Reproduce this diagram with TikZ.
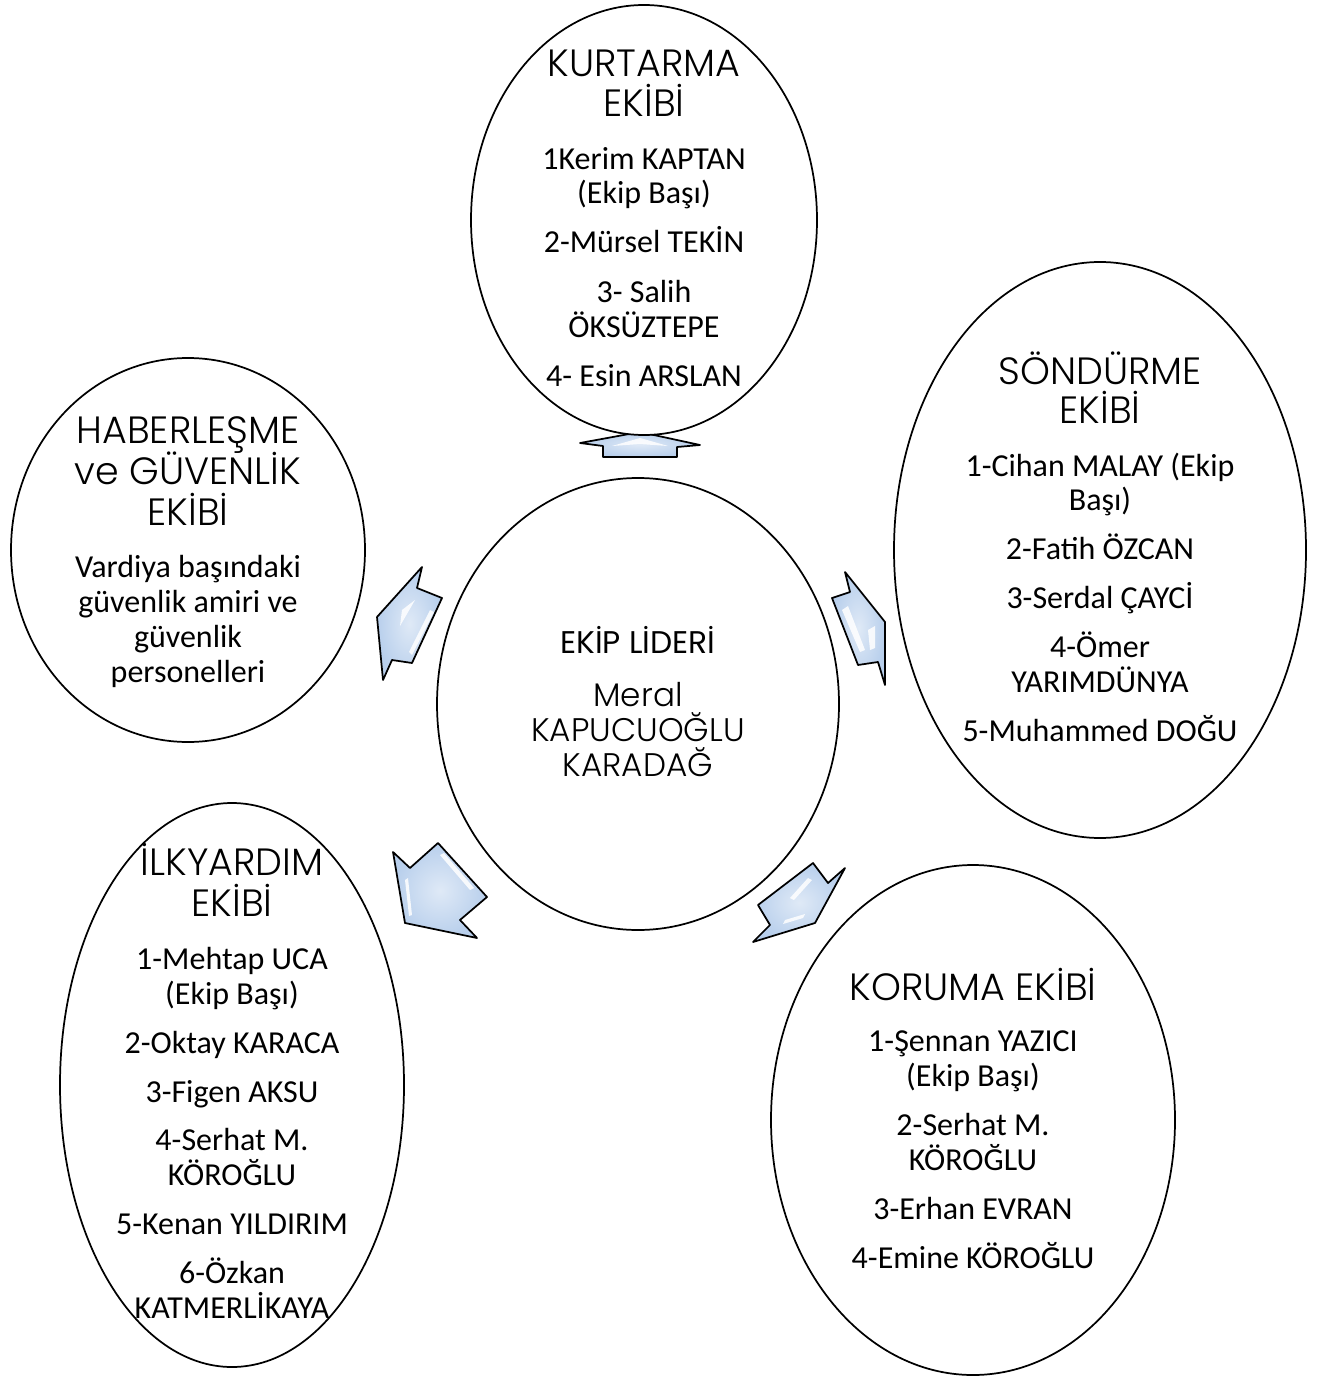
\documentclass[tikz,border=0pt]{standalone}
\usepackage{fontspec}
\setmainfont{Carlito}
\newfontfamily\gothic{Poppins Light}
\newfontfamily\gothicreg{Poppins}
\definecolor{arrowblue}{RGB}{184,207,236}
\begin{document}
\begin{tikzpicture}[x=0.75pt,y=-0.75pt,
  team/.style={draw=black,line width=1.3pt,fill=white},
  arr/.style={draw=black,line width=1.3pt,line join=round,inner color=white!55!arrowblue,outer color=arrowblue},
  glint/.style={draw=none,fill=white,opacity=0.85},
  body/.style={font=\fontsize{24}{28}\selectfont,anchor=base,inner sep=0pt},
  ttl/.style={font=\gothic\fontsize{28.5}{33}\selectfont,anchor=base,inner sep=0pt},
  ctr/.style={font=\gothic\fontsize{24.5}{29}\selectfont,anchor=base,inner sep=0pt},
  ctrhead/.style={font=\gothicreg\fontsize{23.5}{28}\selectfont,anchor=base,inner sep=0pt}]
\useasboundingbox (0,0) rectangle (1326,1376);
% arrows
\path[arr] (603,457) -- (603,446) -- (580,443) -- (640,432) -- (700,445) -- (677,447) -- (677,457) -- cycle;
\path[glint] (612,446) -- (640,438) -- (668,446) -- (640,444) -- cycle;
\path[arr] (422,567) -- (417,588) -- (442,598) -- (412,663) -- (392,660) -- (383,680) -- (377,617) -- cycle;
\path[glint] (402,610) -- (415,600) -- (400,626) -- cycle;
\path[glint] (430,610) -- (434,612) -- (412,655) -- (409,652) -- cycle;
\path[arr] (845,572) -- (850,592) -- (832,598) -- (858,665) -- (878,662) -- (885,685) -- (885,622) -- cycle;
\path[glint] (842,610) -- (848,606) -- (865,650) -- (860,652) -- cycle;
\path[glint] (868,630) -- (875,626) -- (875,648) -- (870,650) -- cycle;
\path[arr] (393,852) -- (410,868) -- (438,843) -- (487,897) -- (460,920) -- (477,938) -- (405,923) -- cycle;
\path[glint] (440,855) -- (444,853) -- (474,888) -- (470,890) -- cycle;
\path[glint] (405,880) -- (408,878) -- (412,915) -- (409,916) -- cycle;
\path[arr] (845,868) -- (828,883) -- (813,863) -- (758,905) -- (770,925) -- (753,942) -- (815,923) -- cycle;
\path[glint] (790,898) -- (808,878) -- (812,880) -- (794,900) -- cycle;
\path[glint] (785,920) -- (805,914) -- (803,918) -- (783,924) -- cycle;
% ellipses
\path[team] (644,220) ellipse [x radius=173,y radius=215];
\path[team] (1100,550) ellipse [x radius=206,y radius=288];
\path[team] (188,550) ellipse [x radius=177,y radius=192];
\path[team] (638,704) ellipse [x radius=201,y radius=226];
\path[team] (232,1085) ellipse [x radius=172,y radius=282];
\path[team] (973,1120) ellipse [x radius=202,y radius=255];
% Kurtarma
\node[ttl] (k1) at (644,77) {KURTARMA};
\node[ttl] (k2) at (644,117) {EKİBİ};
\node[body] (k3) at (644,170) {1Kerim KAPTAN};
\node[body] (k4) at (644,204) {(Ekip Başı)};
\node[body] (k5) at (644,253) {2-Mürsel TEKİN};
\node[body] (k6) at (644,302) {3- Salih};
\node[body] (k7) at (644,337) {ÖKSÜZTEPE};
\node[body] (k8) at (644,386) {4- Esin ARSLAN};
% Sondurme
\node[ttl] (s1) at (1100,384) {SÖNDÜRME};
\node[ttl] (s2) at (1100,423) {EKİBİ};
\node[body] (s3) at (1100,476) {1-Cihan MALAY (Ekip};
\node[body] (s4) at (1100,510) {Başı)};
\node[body] (s5) at (1100,559) {2-Fatih ÖZCAN};
\node[body] (s6) at (1100,608) {3-Serdal ÇAYCİ};
\node[body] (s7) at (1100,657) {4-Ömer};
\node[body] (s8) at (1100,692) {YARIMDÜNYA};
\node[body] (s9) at (1100,741) {5-Muhammed DOĞU};
% Haberlesme
\node[ttl] (h1) at (188,443) {HABERLEŞME};
\node[ttl] (h2) at (188,484) {ve GÜVENLİK};
\node[ttl] (h3) at (188,525) {EKİBİ};
\node[body] (h4) at (188,577) {Vardiya başındaki};
\node[body] (h5) at (188,612) {güvenlik amiri ve};
\node[body] (h6) at (188,647) {güvenlik};
\node[body] (h7) at (188,682) {personelleri};
% Center
\node[ctrhead] (c1) at (638,653) {EKİP LİDERİ};
\node[ctr] (c2) at (638,706) {Meral};
\node[ctr] (c3) at (638,741) {KAPUCUOĞLU};
\node[ctr] (c4) at (638,776) {KARADAĞ};
% Ilkyardim
\node[ttl] (i1) at (232,875) {İLKYARDIM};
\node[ttl] (i2) at (232,916) {EKİBİ};
\node[body] (i3) at (232,969) {1-Mehtap UCA};
\node[body] (i4) at (232,1004) {(Ekip Başı)};
\node[body] (i5) at (232,1053) {2-Oktay KARACA};
\node[body] (i6) at (232,1102) {3-Figen AKSU};
\node[body] (i7) at (232,1150) {4-Serhat M.};
\node[body] (i8) at (232,1185) {KÖROĞLU};
\node[body] (i9) at (232,1234) {5-Kenan YILDIRIM};
\node[body] (i10) at (232,1283) {6-Özkan};
\node[body] (i11) at (232,1318) {KATMERLİKAYA};
% Koruma
\node[ttl] (r1) at (973,1000) {KORUMA EKİBİ};
\node[body] (r2) at (973,1051) {1-Şennan YAZICI};
\node[body] (r3) at (973,1086) {(Ekip Başı)};
\node[body] (r4) at (973,1135) {2-Serhat M.};
\node[body] (r5) at (973,1170) {KÖROĞLU};
\node[body] (r6) at (973,1219) {3-Erhan EVRAN};
\node[body] (r7) at (973,1268) {4-Emine KÖROĞLU};
\end{tikzpicture}
\end{document}
